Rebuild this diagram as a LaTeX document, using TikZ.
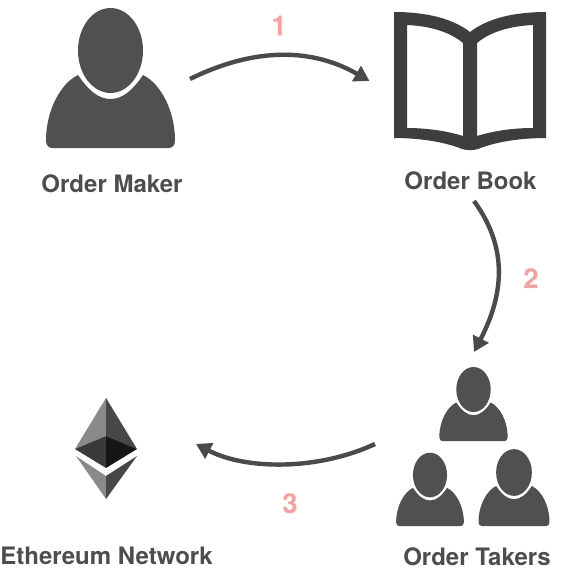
\documentclass[tikz,border=0pt]{standalone}
\usepackage{fontspec}
\setmainfont{TeX Gyre Heros}
\usetikzlibrary{arrows.meta}
\definecolor{iconc}{HTML}{505050}
\definecolor{bookc}{HTML}{3E3E3E}
\definecolor{linec}{HTML}{4A4A4A}
\definecolor{textc}{HTML}{4D4D4D}
\definecolor{numc}{HTML}{FF9C9C}
\definecolor{ethlight}{HTML}{8A8A8A}
\definecolor{ethmid}{HTML}{474747}
\definecolor{ethdark}{HTML}{3A3A3A}
\definecolor{ethblack}{HTML}{161616}
\tikzset{
  flowarrow/.style={draw=linec,line width=4.4pt,-{Triangle[length=15pt,width=17pt,fill=linec]}},
  caption/.style={font=\fontsize{24}{26}\selectfont\bfseries,text=textc,inner sep=0pt},
  stepnum/.style={font=\fontsize{27.5}{30}\selectfont\bfseries,text=numc,inner sep=0pt},
  iconbox/.style={inner sep=0pt,outer sep=0pt}
}
\newcommand{\personicon}[3]{%
  \begin{scope}[shift={(#1,#2)},scale=#3]
    \fill[iconc] (0,0) ellipse [x radius=32.5,y radius=42.5];
    \fill[iconc] (-32.5,24.5) .. controls (-22,40) and (-12,48.5) .. (0,48.5)
      .. controls (12,48.5) and (22,40) .. (32.5,24.5)
      .. controls (50,33) and (64.5,60) .. (64.5,90)
      .. controls (64.5,95) and (62,97.5) .. (58,97.5)
      -- (-58,97.5)
      .. controls (-62,97.5) and (-64.5,95) .. (-64.5,90)
      .. controls (-64.5,60) and (-50,33) .. (-32.5,24.5) -- cycle;
  \end{scope}}
\begin{document}
\begin{tikzpicture}[x=1pt,y=-1pt]
\useasboundingbox (0,0) rectangle (560,570);
% icon anchors
\node[iconbox,minimum width=129pt,minimum height=140pt] (maker) at (111,78) {};
\node[iconbox,minimum width=152pt,minimum height=138pt] (book) at (470,81) {};
\node[iconbox,minimum width=154pt,minimum height=160pt] (takers) at (473,447) {};
\node[iconbox,minimum width=62pt,minimum height=101pt] (eth) at (106,448.5) {};
% persons
\personicon{110.5}{50.5}{1}
\personicon{473.5}{389.5}{0.53}
\personicon{430}{475}{0.525}
\personicon{514}{472.5}{0.55}
% book
\fill[bookc,even odd rule]
  (394,12) .. controls (425,12) and (452,18) .. (470,32)
  .. controls (488,18) and (515,12) .. (546,12)
  -- (546,138) .. controls (520,138) and (495,142) .. (478,149)
  .. controls (473,150.5) and (467,150.5) .. (462,149)
  .. controls (445,142) and (420,138) .. (394,138) -- cycle
  (407,25) .. controls (430,26) and (450,32) .. (463,43)
  -- (463,136) .. controls (447,131) and (427,128) .. (407,128) -- cycle
  (533,25) .. controls (510,26) and (490,32) .. (477,43)
  -- (477,136) .. controls (493,131) and (513,128) .. (533,128) -- cycle;
% ethereum
\fill[ethlight] (106,398) -- (75,449) -- (106,436) -- cycle;
\fill[ethmid] (106,398) -- (137,449) -- (106,436) -- cycle;
\fill[ethdark] (75,449) -- (106,436) -- (106,468) -- cycle;
\fill[ethblack] (137,449) -- (106,436) -- (106,468) -- cycle;
\fill[ethlight] (76,456) -- (106,476) -- (106,499) -- cycle;
\fill[ethmid] (137,456) -- (106,476) -- (106,499) -- cycle;
% captions
\node[caption] (lmaker) at (112,184) {Order Maker};
\node[caption] (lbook) at (470.5,181) {Order Book};
\node[caption] (ltakers) at (477,557) {Order Takers};
\node[caption] (leth) at (106.5,556) {Ethereum Network};
% numbers
\node[stepnum] (n1) at (279,26) {1};
\node[stepnum] (n2) at (531,279) {2};
\node[stepnum] (n3) at (290,504) {3};
% connectors
\draw[flowarrow] ([shift={(14.5,1)}]maker.east) .. controls (255,47) and (312,48) .. ([shift={(-24.5,0)}]book.west);
\draw[flowarrow] ([shift={(4,51)}]book.south) .. controls (506,245) and (506,290) .. ([shift={(1,-15)}]takers.north);
\draw[flowarrow] ([shift={(-21,-3)}]takers.west) .. controls (318,470.5) and (246,470) .. ([shift={(121,-4.5)}]eth.west);
\end{tikzpicture}
\end{document}
